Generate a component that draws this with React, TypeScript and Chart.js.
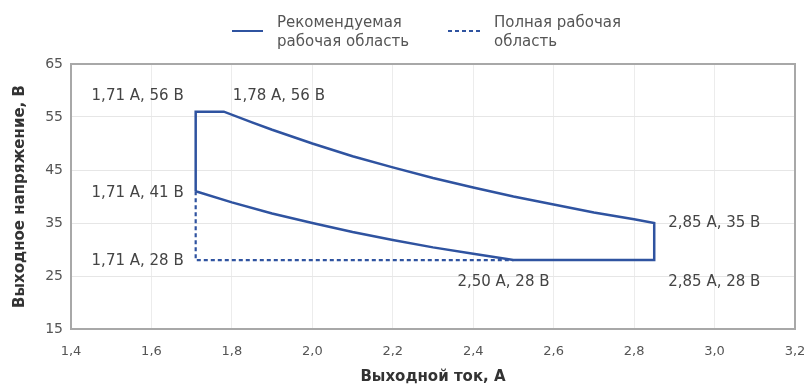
import React, { useEffect, useRef } from "react";
import { Chart, registerables } from "chart.js";

Chart.register(...registerables);

// ---- data ----
const seriesLabels = [["Рекомендуемая", "рабочая область"], ["Полная рабочая", "область"]];
const recommendedX = [1.71, 1.71, 1.78, 1.85, 1.9, 2.0, 2.1, 2.2, 2.3, 2.4, 2.5, 2.6, 2.7, 2.8, 2.85, 2.85, 2.5, 2.4, 2.3, 2.2, 2.1, 2.0, 1.9, 1.8, 1.71];
const recommendedY = [41, 56, 56, 54.0, 52.6, 50.0, 47.6, 45.5, 43.5, 41.7, 40.0, 38.5, 37.0, 35.7, 35, 28, 28, 29.2, 30.4, 31.8, 33.3, 35.0, 36.8, 38.9, 41];
const fullX = [1.71, 1.71, 2.5];
const fullY = [41, 28, 28];
const annotX = [1.71, 1.78, 1.71, 1.71, 2.5, 2.85, 2.85];
const annotY = [56, 56, 41, 28, 28, 35, 28];
const xTickLabels = ["1,4", "1,6", "1,8", "2,0", "2,2", "2,4", "2,6", "2,8", "3,0", "3,2"];
const yTickLabels = ["15", "25", "35", "45", "55", "65"];
const xTitle = "Выходной ток, А";
const yTitle = "Выходное напряжение, В";

// ---- styles / placement ----
const LINE = "#2f53a0";
const TEXT = "#444";
const FONT = "'DejaVu Sans', sans-serif";
// [align, dx, dy]
const annotPlacement: [CanvasTextAlign, number, number][] = [
  ["right", -12, -16],
  ["left", 9, -16],
  ["right", -12, 2],
  ["right", -12, 1],
  ["center", -10, 22],
  ["left", 14, 0],
  ["left", 14, 22],
];

const fmt = (v: number) => v.toFixed(2).replace(".", ",");

const boxPlugin = {
  id: "boxPlugin",
  beforeDatasetsDraw(chart: any) {
    const { ctx, chartArea: a } = chart;
    ctx.save();
    ctx.strokeStyle = "#a8a8a8";
    ctx.lineWidth = 2;
    ctx.strokeRect(a.left, a.top, a.right - a.left, a.bottom - a.top);
    ctx.restore();
  },
};

const annotPlugin = {
  id: "annotPlugin",
  afterDatasetsDraw(chart: any) {
    const { ctx, scales } = chart;
    ctx.save();
    ctx.font = `15px ${FONT}`;
    ctx.fillStyle = TEXT;
    ctx.textBaseline = "middle";
    annotX.forEach((xv, i) => {
      const [align, dx, dy] = annotPlacement[i];
      const px = scales.x.getPixelForValue(xv);
      const py = scales.y.getPixelForValue(annotY[i]);
      ctx.textAlign = align;
      ctx.fillText(`${fmt(xv)} А, ${annotY[i]} В`, px + dx, py + dy);
    });
    ctx.restore();
  },
};

const legendPlugin = {
  id: "customLegend",
  afterDraw(chart: any) {
    const { ctx } = chart;
    const items = [
      { x0: 232, x1: 263, tx: 277, dash: [] as number[] },
      { x0: 448, x1: 483, tx: 494, dash: [4, 3] },
    ];
    ctx.save();
    items.forEach((it, i) => {
      const ds = chart.data.datasets[i];
      ctx.strokeStyle = ds.borderColor;
      ctx.lineWidth = 2;
      ctx.setLineDash(it.dash);
      ctx.beginPath();
      ctx.moveTo(it.x0, 31);
      ctx.lineTo(it.x1, 31);
      ctx.stroke();
      ctx.setLineDash([]);
      ctx.font = `15px ${FONT}`;
      ctx.fillStyle = "#555";
      ctx.textAlign = "left";
      ctx.textBaseline = "middle";
      const lines = seriesLabels[i];
      lines.forEach((t, j) => ctx.fillText(t, it.tx, 23 + j * 19));
    });
    ctx.restore();
  },
};

export default function App() {
  const ref = useRef<HTMLCanvasElement>(null);
  useEffect(() => {
    document.body.style.margin = "0";
    const chart = new Chart(ref.current!, {
      type: "line",
      data: {
        datasets: [
          {
            label: seriesLabels[0].join(" "),
            data: recommendedX.map((x, i) => ({ x, y: recommendedY[i] })),
            borderColor: LINE,
            borderWidth: 2.5,
            pointRadius: 0,
            tension: 0,
            fill: false,
          },
          {
            label: seriesLabels[1].join(" "),
            data: fullX.map((x, i) => ({ x, y: fullY[i] })),
            borderColor: LINE,
            borderWidth: 2.2,
            borderDash: [4, 3],
            pointRadius: 0,
            tension: 0,
            fill: false,
          },
        ],
      },
      options: {
        responsive: false,
        animation: false,
        layout: { padding: { top: 64, right: 14, left: 0, bottom: 0 } },
        plugins: { legend: { display: false }, tooltip: { enabled: false } },
        scales: {
          x: {
            type: "linear",
            min: 1.4,
            max: 3.2,
            ticks: {
              stepSize: 0.2,
              color: "#555",
              font: { family: FONT, size: 13 },
              padding: 15,
              maxRotation: 0,
              callback: (_v: any, i: number) => xTickLabels[i],
            },
            grid: { color: "#ececec", drawTicks: false },
            border: { display: false },
            title: { display: true, text: xTitle, color: "#333", font: { family: FONT, size: 15, weight: "bold" }, padding: { top: 0, bottom: 0 } },
            afterFit: (s: any) => { s.height = 57; s.paddingLeft = 0; s.paddingRight = 0; },
          },
          y: {
            min: 15,
            max: 65,
            ticks: {
              stepSize: 10,
              color: "#555",
              font: { family: FONT, size: 14 },
              padding: 8,
              callback: (_v: any, i: number) => yTickLabels[i],
            },
            grid: { color: "#e6e6e6", drawTicks: false },
            border: { display: false },
            title: { display: true, text: yTitle, color: "#333", font: { family: FONT, size: 15, weight: "bold" }, padding: { top: 11, bottom: 0 } },
            afterFit: (s: any) => { s.width = 71; s.paddingTop = 0; s.paddingBottom = 0; },
          },
        },
      },
      plugins: [boxPlugin, annotPlugin, legendPlugin],
    } as any);
    return () => chart.destroy();
  }, []);
  return (
    <div style={{ width: 809, height: 386 }}>
      <canvas ref={ref} width={809} height={386} />
    </div>
  );
}
